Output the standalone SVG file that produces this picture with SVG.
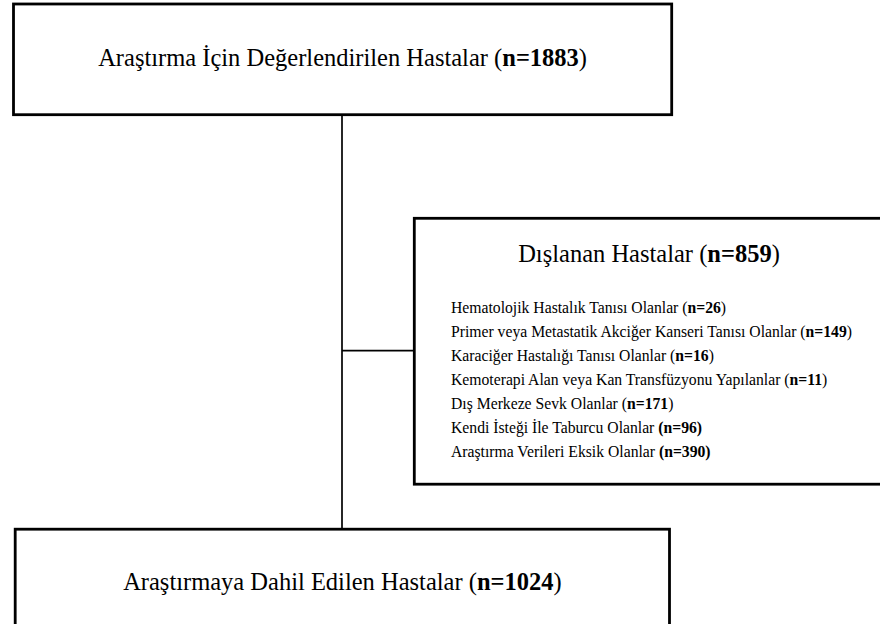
<svg xmlns="http://www.w3.org/2000/svg" width="880" height="624" viewBox="0 0 880 624">
<style>
.box{fill:#fff;stroke:#000;stroke-width:2.8}
.con{fill:none;stroke:#000;stroke-width:1.7}
.t{font-family:"Liberation Serif","Times New Roman",serif;fill:#000}
.big{font-size:24.5px}
.item{font-size:15.7px}
.b{font-weight:bold}
</style>
<rect width="880" height="624" fill="#fff"/>
<g id="connectors">
<line class="con" x1="342" y1="115" x2="342" y2="529"/>
<line class="con" x1="342" y1="350.7" x2="414" y2="350.7"/>
</g>
<g id="node-evaluated">
<rect class="box" x="13.5" y="4" width="658.2" height="110.7"/>
<text class="t big" x="342.6" y="66" text-anchor="middle">Araştırma İçin Değerlendirilen Hastalar (<tspan class="b">n=1883</tspan>)</text>
</g>
<g id="node-excluded">
<rect class="box" x="414.3" y="218.3" width="480" height="265.9"/>
<text class="t big" x="649" y="262" text-anchor="middle">Dışlanan Hastalar (<tspan class="b">n=859</tspan>)</text>
<text class="t item" x="451" y="313">Hematolojik Hastalık Tanısı Olanlar (<tspan class="b">n=26</tspan>)</text>
<text class="t item" x="451" y="337">Primer veya Metastatik Akciğer Kanseri Tanısı Olanlar (<tspan class="b">n=149</tspan>)</text>
<text class="t item" x="451" y="361">Karaciğer Hastalığı Tanısı Olanlar (<tspan class="b">n=16</tspan>)</text>
<text class="t item" x="451" y="385">Kemoterapi Alan veya Kan Transfüzyonu Yapılanlar (<tspan class="b">n=11</tspan>)</text>
<text class="t item" x="451" y="409">Dış Merkeze Sevk Olanlar (<tspan class="b">n=171</tspan>)</text>
<text class="t item" x="451" y="433">Kendi İsteği İle Taburcu Olanlar <tspan class="b">(n=96)</tspan></text>
<text class="t item" x="451" y="457">Araştırma Verileri Eksik Olanlar <tspan class="b">(n=390)</tspan></text>
</g>
<g id="node-included">
<rect class="box" x="15.2" y="529.2" width="654.3" height="120"/>
<text class="t big" x="342.4" y="590" text-anchor="middle">Araştırmaya Dahil Edilen Hastalar (<tspan class="b">n=1024</tspan>)</text>
</g>
</svg>
